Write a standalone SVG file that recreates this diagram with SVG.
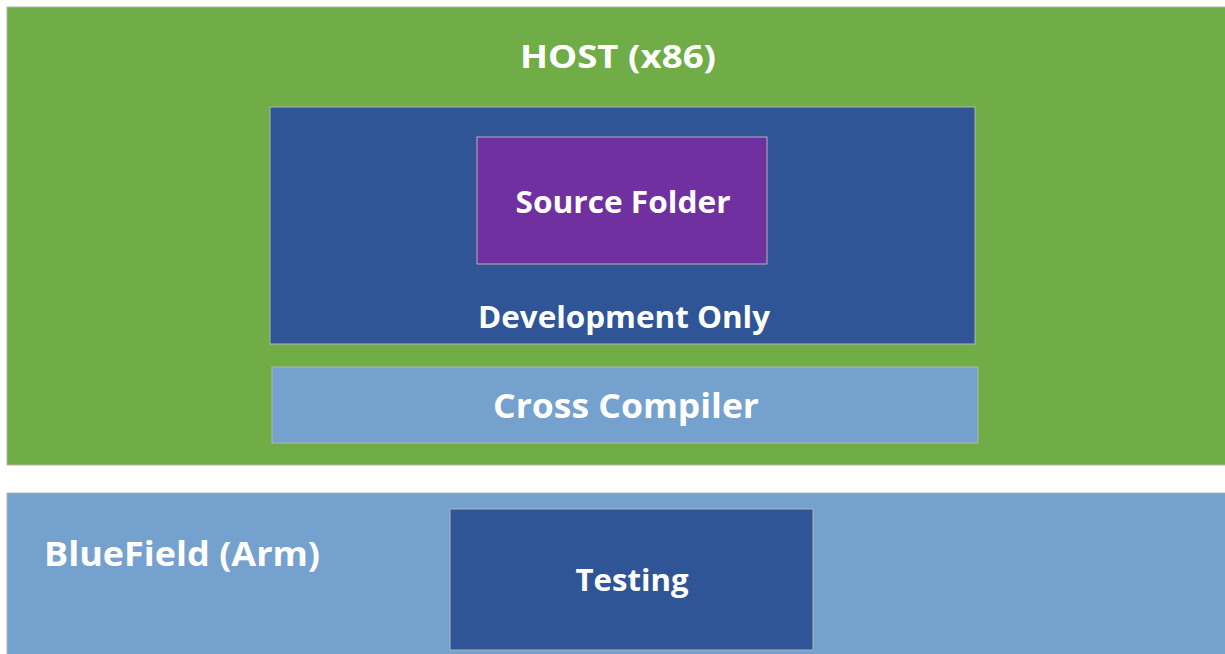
<svg xmlns="http://www.w3.org/2000/svg" width="1225" height="654" viewBox="0 0 1225 654">
<style>
.box{stroke:#b4b4b4;stroke-width:1}
.t{font-family:"Open Sans","Liberation Sans",sans-serif;font-weight:700;fill:#ffffff}
</style>
<rect width="1225" height="654" fill="#ffffff"/>
<g id="host">
<rect class="box" x="7" y="7" width="1225" height="458" fill="#70AD47"/>
<text class="t" x="618" y="68" font-size="32" text-anchor="middle" textLength="196" lengthAdjust="spacingAndGlyphs">HOST (x86)</text>
</g>
<g id="development">
<rect class="box" x="270" y="107" width="705" height="237" fill="#2F5597"/>
<text class="t" x="624" y="328" font-size="30" text-anchor="middle" textLength="292" lengthAdjust="spacingAndGlyphs">Development Only</text>
</g>
<g id="source-folder">
<rect class="box" x="477" y="137" width="290" height="127" fill="#7030A0"/>
<text class="t" x="623" y="213" font-size="30" text-anchor="middle" textLength="215" lengthAdjust="spacingAndGlyphs">Source Folder</text>
</g>
<g id="cross-compiler">
<rect class="box" x="272" y="367" width="706" height="76" fill="#74A1CE"/>
<text class="t" x="626" y="418" font-size="34" text-anchor="middle" textLength="266" lengthAdjust="spacingAndGlyphs">Cross Compiler</text>
</g>
<g id="bluefield">
<rect class="box" x="7" y="493" width="1225" height="170" fill="#74A1CE"/>
<text class="t" x="44" y="566" font-size="34" textLength="276" lengthAdjust="spacingAndGlyphs">BlueField (Arm)</text>
</g>
<g id="testing">
<rect class="box" x="450" y="509" width="363" height="141" fill="#2F5597"/>
<text class="t" x="632" y="591" font-size="30" text-anchor="middle" textLength="113" lengthAdjust="spacingAndGlyphs">Testing</text>
</g>
<g id="connectors"/>
</svg>
